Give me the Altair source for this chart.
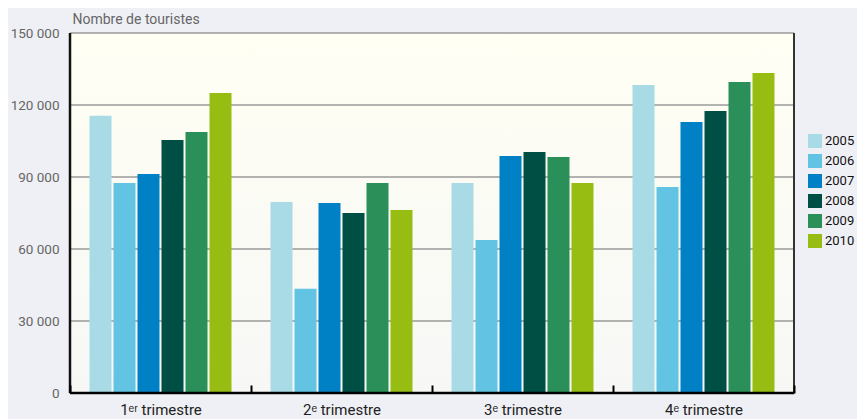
import altair as alt
import pandas as pd

quarters = ["1ᵉʳ trimestre", "2ᵉ trimestre", "3ᵉ trimestre", "4ᵉ trimestre"]
years = ["2005", "2006", "2007", "2008", "2009", "2010"]
v2005 = [115500, 79600, 87500, 128300]
v2006 = [87500, 43400, 63700, 85800]
v2007 = [91200, 79200, 98700, 112900]
v2008 = [105400, 75000, 100400, 117500]
v2009 = [108700, 87500, 98300, 129600]
v2010 = [125000, 76200, 87500, 133300]
colors = ["#a8dbe6", "#62c4e2", "#0080c5", "#004f45", "#2a8f58", "#97bd13"]
y_ticks = [0, 30000, 60000, 90000, 120000, 150000]
grid_ticks = [30000, 60000, 90000, 120000, 150000]

series = [v2005, v2006, v2007, v2008, v2009, v2010]
rows = []
for yr, vals in zip(years, series):
    for q, v in zip(quarters, vals):
        rows.append({"trimestre": q, "annee": yr, "touristes": v})
df = pd.DataFrame(rows)

FONT = "Roboto, Liberation Sans, sans-serif"
one = pd.DataFrame({"a": [0]})

yscale = alt.Scale(domain=[0, 150000], nice=False, zero=True)
yaxis = alt.Axis(
    values=y_ticks, grid=False, domain=False, ticks=False,
    labelExpr="datum.value == 0 ? '0' : format(datum.value / 1000, 'd') + ' 000'",
    labelFontSize=13.5, labelColor="#666666", labelFont=FONT, labelPadding=11,
    title="Nombre de touristes", titleAngle=0, titleAlign="left",
    titleX=2, titleY=-14, titleFontSize=14, titleFontWeight="normal",
    titleColor="#666666", titleFont=FONT, titleBaseline="middle",
)

bg = alt.Chart(one).mark_rect(
    fill=alt.Gradient(
        gradient="linear",
        stops=[alt.GradientStop(color="#fffff4", offset=0),
               alt.GradientStop(color="#f7f7f6", offset=1)],
        x1=0, x2=0, y1=0, y2=1,
    )
).encode(x=alt.value(0), x2=alt.value("width"), y=alt.value(0), y2=alt.value("height"))

grid = alt.Chart(pd.DataFrame({"touristes": grid_ticks})).mark_rule(
    color="#9a9a9a", strokeWidth=1.5
).encode(
    y=alt.Y("touristes:Q", scale=yscale, axis=yaxis),
    x=alt.value(0), x2=alt.value("width"),
)

bars = alt.Chart(df).mark_bar().encode(
    x=alt.X(
        "trimestre:N", sort=quarters,
        scale=alt.Scale(paddingInner=0, paddingOuter=0),
        axis=alt.Axis(
            title=None, labelFontSize=15, labelColor="#222222", labelFont=FONT,
            domain=False, tickBand="extent", tickSize=8, tickWidth=2,
            tickColor="#000000", offset=-8, labelPadding=9, grid=False,
            labelAngle=0, zindex=2,
        ),
    ),
    xOffset=alt.XOffset("annee:N", sort=years,
                        scale=alt.Scale(paddingInner=0.0833, paddingOuter=0.8125)),
    y=alt.Y("touristes:Q", scale=yscale, axis=yaxis),
    color=alt.Color(
        "annee:N", sort=years,
        scale=alt.Scale(domain=years, range=colors),
        legend=alt.Legend(
            title=None, orient="none", legendX=738, legendY=101,
            symbolType="square", symbolSize=196, symbolStrokeWidth=0,
            labelFontSize=13, labelFont=FONT, labelColor="#111111",
            rowPadding=6, labelOffset=3, padding=0,
        ),
    ),
)

left = alt.Chart(one).mark_rule(color="#111111", strokeWidth=2.5).encode(
    x=alt.value(0), y=alt.value(0), y2=alt.value("height"))
right = alt.Chart(one).mark_rule(color="#333333", strokeWidth=2).encode(
    x=alt.value("width"), y=alt.value(0), y2=alt.value("height"))
bottom = alt.Chart(one).mark_rule(color="#000000", strokeWidth=2.5).encode(
    y=alt.value("height"), x=alt.value(0), x2=alt.value("width"))

chart = alt.layer(bg, grid, bars, left, right, bottom).properties(
    width=724, height=360,
    autosize=alt.AutoSizeParams(type="none"),
    padding={"left": 62, "top": 25, "right": 63, "bottom": 26},
    background="#eff0f5",
).configure_view(stroke=None).configure(font=FONT)

chart.save("out.html", embed_options={"renderer": "svg", "actions": False})
